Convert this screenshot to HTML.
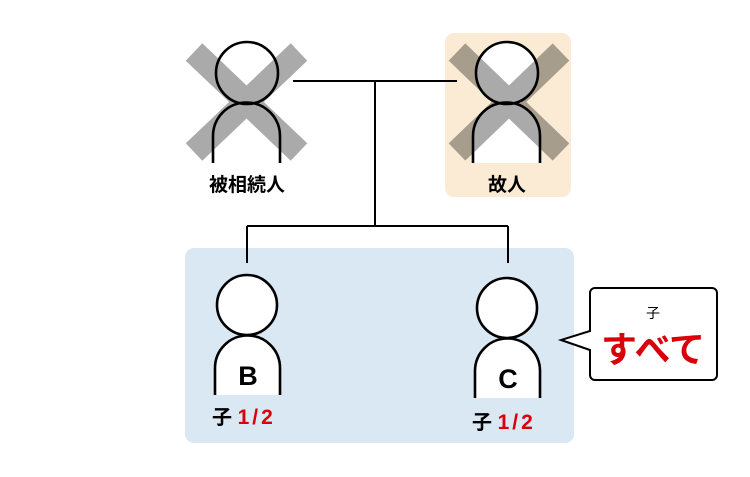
<!DOCTYPE html>
<html><head><meta charset="utf-8"><style>body{margin:0;background:#fff}svg{display:block}</style></head><body>
<svg width="750" height="477" viewBox="0 0 750 477" xmlns="http://www.w3.org/2000/svg" font-family="'Liberation Sans','Noto Sans CJK JP',sans-serif">
<rect x="445" y="33" width="126" height="164" rx="9" fill="#fbebd4"/>
<rect x="185" y="248" width="389" height="195" rx="9" fill="#d9e8f3"/>
<g stroke="#000" stroke-width="2" fill="none">
<path d="M293 81H457M375 81V226M247 226H508M247 226V263M508 226V263"/>
</g>
<g fill="#fff">
<circle cx="247" cy="73" r="31"/><path d="M213 163V136A33.5 33.5 0 0 1 280 136V163Z"/>
<circle cx="507" cy="73" r="31"/><path d="M473 163V136A33.5 33.5 0 0 1 540 136V163Z"/>
</g>
<g stroke="#aaa" stroke-width="24" style="mix-blend-mode:multiply">
<path d="M194 52L299 152M299 52L194 152"/>
<path d="M457 52L561 152M561 52L457 152"/>
</g>
<g stroke="#000" stroke-width="2.6" fill="none">
<circle cx="247" cy="73" r="31"/><path d="M213 163V136A33.5 33.5 0 0 1 280 136V163"/>
<circle cx="507" cy="73" r="31"/><path d="M473 163V136A33.5 33.5 0 0 1 540 136V163"/>
</g>
<g stroke="#000" stroke-width="2.6" fill="#fff">
<path d="M215 395V368A32.5 32.5 0 0 1 280 368V395"/>
<circle cx="247" cy="305" r="30"/>
<path d="M475 398V371A32.5 32.5 0 0 1 540 371V398"/>
<circle cx="507" cy="308" r="30"/>
</g>
<text x="247" y="191" font-size="19" font-weight="bold" text-anchor="middle">被相続人</text>
<text x="507" y="191" font-size="19" font-weight="bold" text-anchor="middle">故人</text>
<text x="248" y="385" font-size="27" font-weight="bold" text-anchor="middle">B</text>
<text x="508" y="388" font-size="27" font-weight="bold" text-anchor="middle">C</text>
<text x="212" y="424" font-size="20" font-weight="bold">子 <tspan fill="#d9000a" font-size="21" letter-spacing="3">1/2</tspan></text>
<text x="472" y="429" font-size="20" font-weight="bold">子 <tspan fill="#d9000a" font-size="21" letter-spacing="3">1/2</tspan></text>
<path d="M595 288H712A5 5 0 0 1 717 293V375A5 5 0 0 1 712 380H595A5 5 0 0 1 590 375V350L561 340L590 331V293A5 5 0 0 1 595 288Z" fill="#fff" stroke="#000" stroke-width="2"/>
<text x="653" y="318" font-size="14" text-anchor="middle">子</text>
<text x="653" y="362" font-size="36" font-weight="bold" fill="#d9000a" text-anchor="middle">すべて</text>
</svg>
</body></html>
